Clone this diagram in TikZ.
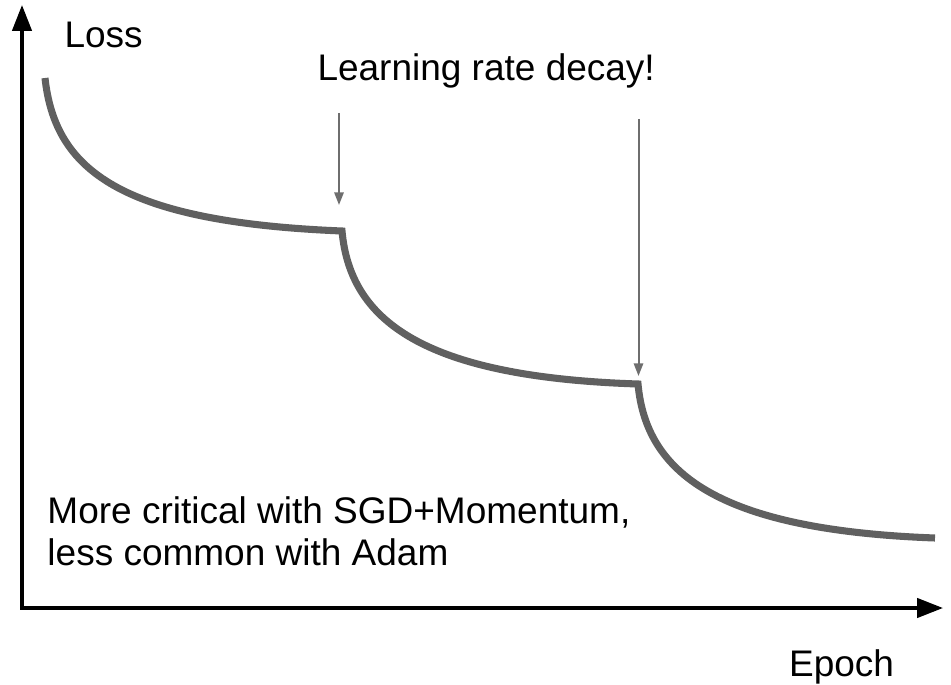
\documentclass[tikz,border=0pt]{standalone}
\usepackage{fontspec}
\setmainfont{Liberation Sans}
\usetikzlibrary{arrows.meta,calc}

\definecolor{curvegray}{HTML}{606060}
\definecolor{markgray}{HTML}{6E6E6E}

\tikzset{
  axisline/.style={line width=2.6pt, draw=black, line join=miter,
    {Triangle[length=19.5pt,width=14.5pt]}-{Triangle[length=19.5pt,width=14.5pt]}},
  losscurve/.style={line width=5.3pt, draw=curvegray, line join=miter, miter limit=4},
  decaymark/.style={line width=1.5pt, draw=markgray,
    -{Triangle[length=9.5pt,width=7pt]}},
  lbl/.style={inner sep=0pt, outer sep=0pt, font=\fontsize{27.75}{30}\selectfont, text=black},
}

\begin{document}
\begin{tikzpicture}[x=0.75pt, y=-0.75pt]
  \useasboundingbox (0,0) rectangle (951,685);

  % axes
  \coordinate (origin) at (22,608);
  \coordinate (ytip) at (22,5);
  \coordinate (xtip) at (943,608);
  \draw[axisline] (ytip) -- (origin) -- (xtip);

  % labels
  \node[lbl, anchor=base west] (loss) at (64.5,48) {Loss};
  \node[lbl, anchor=base east] (epoch) at (894,676) {Epoch};
  \node[lbl, anchor=base west] (decay) at (317.5,81) {Learning rate decay!};
  \node[lbl, anchor=base west, align=left] (note) at (47.5,565)
    {More critical with SGD+Momentum,\\[1.5pt]less common with Adam};

  % loss curve: three decaying stages separated by rate drops
  \coordinate (s0) at (45,78);
  \coordinate (s1) at (342,231);
  \coordinate (s2) at (638,384);
  \coordinate (s3) at (935,538);
  \draw[losscurve]
    (s0) .. controls ($(s0)+(10,92)$) and ($(s0)+(75,144)$) .. (s1)
         .. controls ($(s1)+(8,88)$) and ($(s1)+(78,146)$) .. (s2)
         .. controls ($(s2)+(8,88)$) and ($(s2)+(78,146)$) .. (s3);

  % decay markers
  \coordinate (m1a) at (339,113);
  \coordinate (m1b) at (339,205);
  \coordinate (m2a) at (638.5,119);
  \coordinate (m2b) at (638.5,376);
  \draw[decaymark] (m1a) -- (m1b);
  \draw[decaymark] (m2a) -- (m2b);
\end{tikzpicture}
\end{document}
